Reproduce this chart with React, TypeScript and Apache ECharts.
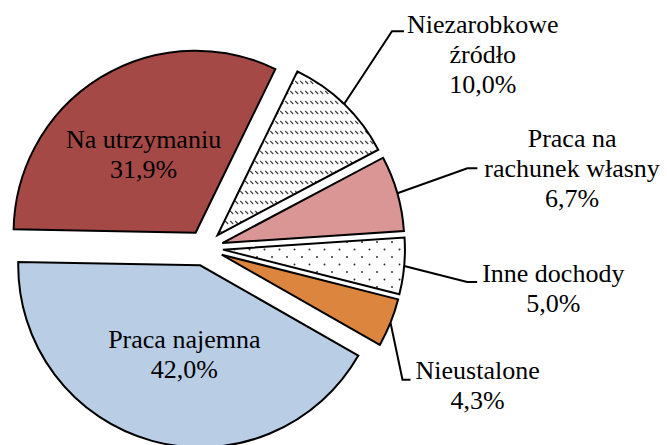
import React, { useEffect, useRef } from "react";
import * as echarts from "echarts";

const categories = [
  "Niezarobkowe\nźródło",
  "Praca na\nrachunek własny",
  "Inne dochody",
  "Nieustalone",
  "Praca najemna",
  "Na utrzymaniu",
];
const values = [10.0, 6.7, 5.0, 4.3, 42.0, 31.9];

const CENTER = [205, 248];
const RADIUS = 182;
const START_ANGLE = 64;
const EXPLODE = 18;
const FONT = "Liberation Serif";

const svgUrl = (s: string) => "data:image/svg+xml;charset=utf-8," + encodeURIComponent(s);
const hatchSvg =
  "<svg xmlns='http://www.w3.org/2000/svg' width='10' height='10'><rect width='10' height='10' fill='white'/><path d='M0.2,1 L3.2,4 M5.2,1 L8.2,4' stroke='#3a3a3a' stroke-width='1.1' fill='none'/></svg>";
const dotSvg =
  "<svg xmlns='http://www.w3.org/2000/svg' width='15' height='15'><rect width='15' height='15' fill='white'/><circle cx='2' cy='2' r='1' fill='#333'/><circle cx='9.5' cy='9.5' r='1' fill='#333'/></svg>";

const fills: any[] = [
  { image: svgUrl(hatchSvg), repeat: "repeat", imageWidth: 10, imageHeight: 10 },
  "#D99694",
  { image: svgUrl(dotSvg), repeat: "repeat", imageWidth: 15, imageHeight: 15 },
  "#DC853F",
  "#B9CDE5",
  "#A54947",
];

// leader layout: elbow offset from arc anchor, horizontal tail, gap to text, vertical shift of text
const leaders: any[] = [
  { ex: 48, ey: -73, len2: 12, gap: 3, dy: 23 },
  { ex: 70, ey: -25, len2: 10, gap: 7, dy: 0 },
  { ex: 63, ey: 16, len2: 10, gap: 5, dy: 6 },
  { ex: 12, ey: 57, len2: 8, gap: 5, dy: 6 },
  null,
  null,
];
const insideShift: any[] = [null, null, null, null, { dx: 9, dy: -1 }, { dx: -3, dy: 2 }];

const fmt = (v: number) => v.toFixed(1).replace(".", ",") + "%";

export default function App() {
  const ref = useRef<HTMLDivElement>(null);
  useEffect(() => {
    if (!ref.current) return;
    const chart = echarts.init(ref.current, null, { renderer: "svg" });
    const total = values.reduce((a, b) => a + b, 0);
    let acc = 0;
    const series = values.map((v, k) => {
      const mid = START_ANGLE - ((acc + v / 2) / total) * 360;
      acc += v;
      const rad = (mid * Math.PI) / 180;
      const cx = CENTER[0] + EXPLODE * Math.cos(rad);
      const cy = CENTER[1] - EXPLODE * Math.sin(rad);
      const outside = leaders[k] != null;
      return {
        type: "pie",
        center: [cx, cy],
        radius: RADIUS,
        startAngle: START_ANGLE,
        clockwise: true,
        avoidLabelOverlap: false,
        silent: true,
        emphasis: { disabled: true },
        data: values.map((vv, j) => {
          if (j !== k) {
            return {
              name: categories[j],
              value: vv,
              itemStyle: { color: "rgba(0,0,0,0)", borderWidth: 0 },
              label: { show: false },
              labelLine: { show: false },
            };
          }
          return {
            name: categories[j],
            value: vv,
            itemStyle: { color: fills[j], borderColor: "#000", borderWidth: 2, borderJoin: "miter" },
            label: {
              show: true,
              position: outside ? "outside" : "inside",
              formatter: (p: any) => p.name + "\n" + fmt(p.value),
              fontFamily: FONT,
              fontSize: 26,
              lineHeight: 30,
              color: "#000",
              align: "center",
            },
            labelLine: {
              show: outside,
              length: 20,
              length2: 10,
              lineStyle: { color: "#000", width: 2 },
            },
          };
        }),
        labelLayout: (p: any) => {
          if (p.dataIndex !== k) return {};
          if (!outside) {
            const s = insideShift[k];
            return s ? { dx: s.dx, dy: s.dy } : {};
          }
          const pts = p.labelLinePoints;
          if (!pts || !pts.length) return {};
          const o = leaders[k];
          const A = pts[0];
          const E = [A[0] + o.ex, A[1] + o.ey];
          const F = [E[0] + o.len2, E[1]];
          return {
            x: F[0] + o.gap + p.labelRect.width / 2,
            y: F[1] + o.dy,
            align: "center",
            verticalAlign: "middle",
            labelLinePoints: [A, E, F],
          };
        },
      };
    });
    chart.setOption({
      animation: false,
      backgroundColor: "#fff",
      textStyle: { fontFamily: FONT },
      series,
    });
    return () => chart.dispose();
  }, []);
  return (
    <div
      ref={ref}
      style={{ position: "fixed", left: 0, top: 0, width: 667, height: 445, background: "#fff" }}
    />
  );
}
